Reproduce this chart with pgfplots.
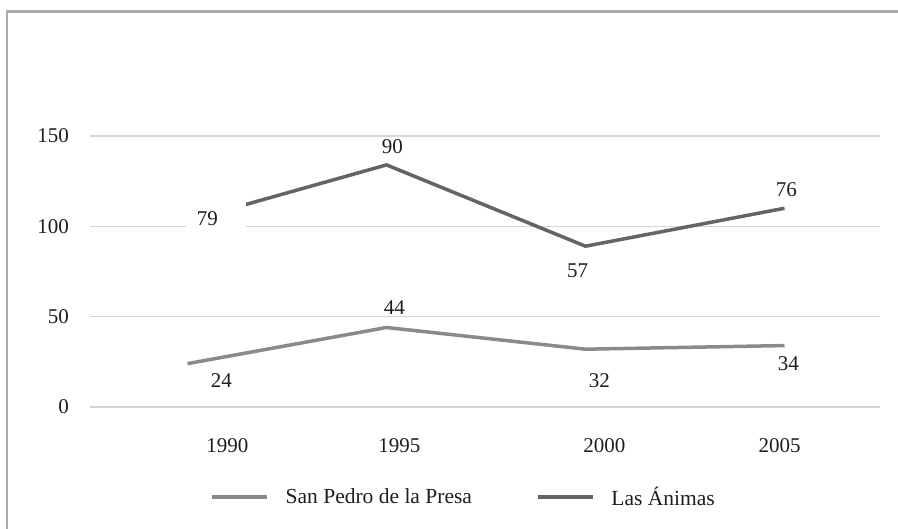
\documentclass[border=0pt]{standalone}
\usepackage{fontspec}
\setmainfont{Liberation Serif}
\usepackage{pgfplots}
\pgfplotsset{compat=1.18}
\definecolor{spc}{HTML}{8A8A8A}
\definecolor{lac}{HTML}{646464}
\definecolor{gridc}{HTML}{D6D6D6}
\definecolor{framec}{HTML}{ABABAB}
\definecolor{txt}{HTML}{1E1E1E}
\newcommand{\lblfont}{\fontsize{21bp}{25bp}\selectfont}
\newcommand{\legfont}{\fontsize{21.5bp}{26bp}\selectfont}
\pgfplotsset{longline legend/.style={legend image code/.code={\draw[##1] (0bp,0bp) -- (55bp,0bp);}}}
\begin{document}
\begin{tikzpicture}
\path[use as bounding box] (0,0) rectangle (898bp,529bp);
\draw[framec, line width=2.5bp] (7bp,0bp) -- (7bp,517.5bp) -- (898bp,517.5bp);
\begin{axis}[
  at={(90bp,122bp)}, anchor=south west,
  scale only axis, width=790bp, height=271bp,
  xmin=-0.49, xmax=3.48, ymin=0, ymax=150,
  clip=false,
  axis line style={draw=none},
  major tick length=0pt,
  ymajorgrids, grid style={gridc, line width=1.2bp},
  ytick={0,50,100,150},
  yticklabels={0,50,100,150},
  xtick={0.20,1.065,2.095,2.975},
  xticklabels={1990,1995,2000,2005},
  every tick label/.append style={font=\lblfont, text=txt, inner sep=0pt},
  yticklabel style={anchor=east, xshift=-21bp},
  xticklabel style={anchor=base, yshift=-45bp},
  legend columns=2,
  legend style={at={(rel axis cs:0.1519,-0.332)}, anchor=west, draw=none, fill=none,
    font=\legfont, text=txt, inner sep=0pt,
    /tikz/every odd column/.append style={column sep=15bp},
    /tikz/every even column/.append style={column sep=62bp}},
  longline legend,
]
% San Pedro de la Presa
\addplot[spc, line width=3.5bp, mark=none] coordinates {(0,24) (1,44) (2,32) (3,34)};
\addlegendentry{San Pedro de la Presa}
% Las Animas, drawn stacked on San Pedro (79, 90, 57, 76 on top of 24, 44, 32, 34)
\addplot[lac, line width=3.5bp, mark=none] coordinates {(0,103) (1,134) (2,89) (3,110)};
\addlegendentry{Las Ánimas}
\fill[white] (axis cs:-0.01,96.9) rectangle (axis cs:0.296,114);
\node[font=\lblfont, text=txt, inner sep=0pt] at (axis cs:0.10,104.0) {79};
\node[font=\lblfont, text=txt, inner sep=0pt] at (axis cs:1.03,143.9) {90};
\node[font=\lblfont, text=txt, inner sep=0pt] at (axis cs:1.96,75.5) {57};
\node[font=\lblfont, text=txt, inner sep=0pt] at (axis cs:3.01,120.2) {76};
\node[font=\lblfont, text=txt, inner sep=0pt] at (axis cs:0.17,14.9) {24};
\node[font=\lblfont, text=txt, inner sep=0pt] at (axis cs:1.04,54.8) {44};
\node[font=\lblfont, text=txt, inner sep=0pt] at (axis cs:2.07,14.4) {32};
\node[font=\lblfont, text=txt, inner sep=0pt] at (axis cs:3.02,23.8) {34};
\end{axis}
\end{tikzpicture}
\end{document}
